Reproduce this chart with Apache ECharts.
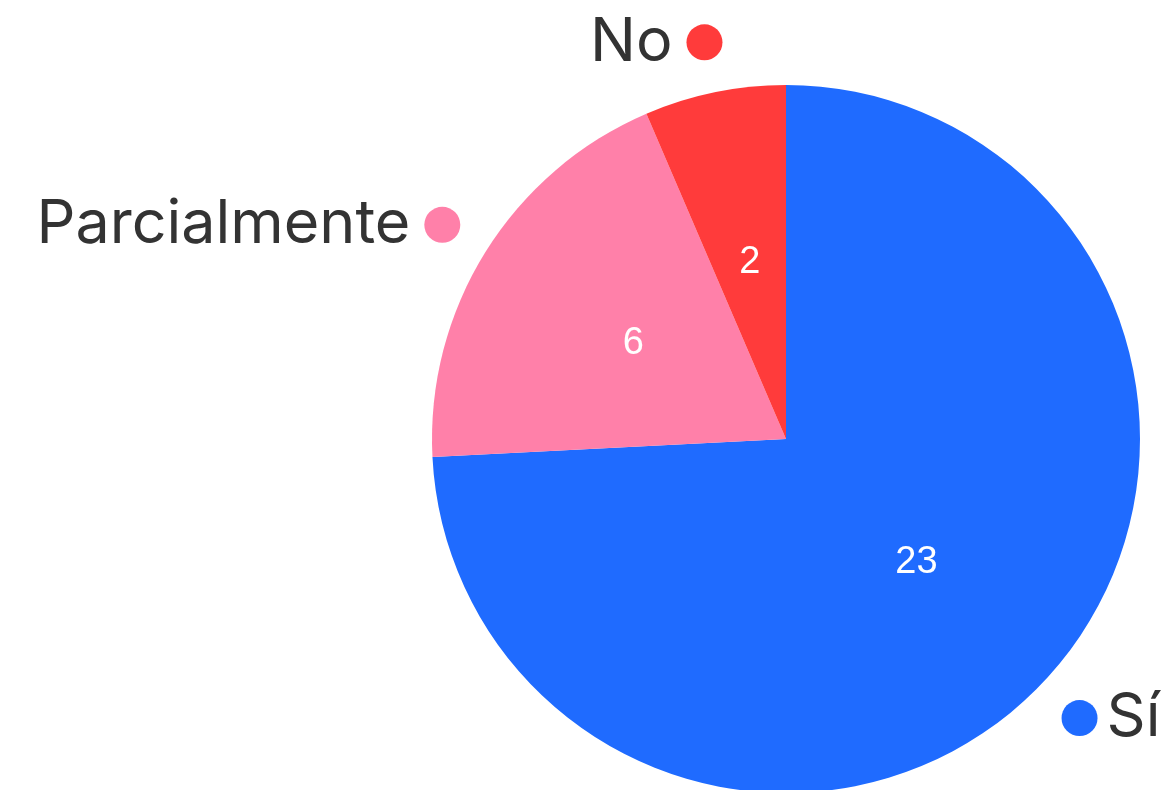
<!DOCTYPE html>
<html>
<head>
<meta charset="utf-8">
<script src="https://cdn.jsdelivr.net/npm/echarts@6/dist/echarts.min.js"></script>
<style>
  html, body { margin: 0; padding: 0; background: #fff; }
  #main { width: 1169px; height: 790px; }
</style>
</head>
<body>
<div id="main"></div>
<script>
// datos del gráfico
const categories = ['Sí', 'Parcialmente', 'No'];
const values = [23, 6, 2];
const colors = ['#1f6bff', '#ff80a9', '#ff3b3b'];

const chart = echarts.init(document.getElementById('main'));

const data = categories.map((name, i) => ({
  name: name,
  value: values[i],
  itemStyle: { color: colors[i] }
}));
// misma data pero sin relleno, solo para las etiquetas de fuera
const dataLabels = categories.map((name, i) => ({
  name: name,
  value: values[i],
  itemStyle: { color: 'rgba(0,0,0,0)' }
}));

const option = {
  animation: false,
  series: [
    {
      // números dentro
      type: 'pie',
      center: [786, 439],
      radius: [0, 354],
      startAngle: 90,
      clockwise: true,
      avoidLabelOverlap: false,
      label: {
        position: 'inside',
        formatter: '{c}',
        color: '#fff',
        fontSize: 38,
        fontFamily: 'Liberation Sans, Arial, sans-serif'
      },
      labelLine: { show: false },
      data: data
    },
    {
      // etiquetas de fuera con el punto
      type: 'pie',
      center: [786, 439],
      radius: [0, 354],
      startAngle: 90,
      clockwise: true,
      avoidLabelOverlap: false,
      silent: true,
      label: {
        position: 'outside',
        distanceToLabelLine: -18,
        formatter: function (p) {
          if (p.dataIndex === 0) return '{d' + p.dataIndex + '|}{tr|' + p.name + '}';
          return '{tl|' + p.name + '}{d' + p.dataIndex + '|}';
        },
        rich: {
          tl: {
            fontSize: 61,
            color: '#333',
            fontFamily: 'Inter, Lato, sans-serif',
            padding: [0, 14, 0, 0]
          },
          tr: {
            fontSize: 61,
            color: '#333',
            fontFamily: 'Inter, Lato, sans-serif',
            padding: [0, 0, 0, 9]
          },
          d0: { width: 36, height: 36, borderRadius: 18, backgroundColor: colors[0] },
          d1: { width: 36, height: 36, borderRadius: 18, backgroundColor: colors[1] },
          d2: { width: 36, height: 36, borderRadius: 18, backgroundColor: colors[2] }
        }
      },
      labelLine: { show: false, length: 51, length2: 0 },
      data: dataLabels
    }
  ]
};

chart.setOption(option);
</script>
</body>
</html>
